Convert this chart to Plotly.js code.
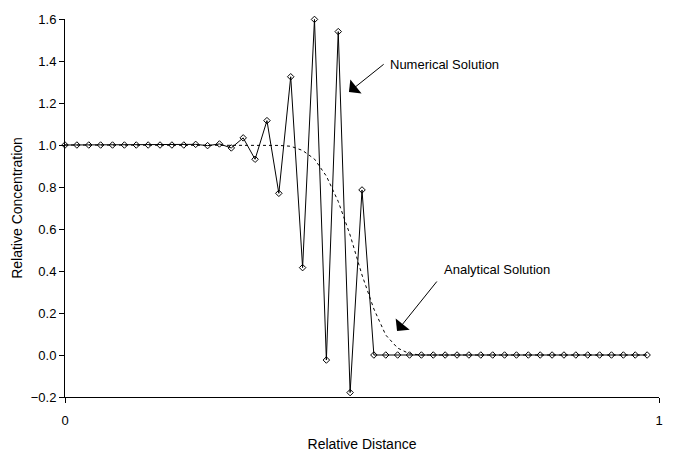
<!DOCTYPE html>
<html>
<head>
<meta charset="utf-8">
<script src="https://cdn.plot.ly/plotly-3.0.1.min.js"></script>
<style>html,body{margin:0;padding:0;background:#fff;}#chart{width:675px;height:452px;}</style>
</head>
<body>
<div id="chart"></div>
<script>
// Relative distance grid (step 0.02)
var xStep = 0.02;
var nPoints = 50;
var relDistance = [];
for (var i = 0; i < nPoints; i++) relDistance.push(+(i * xStep).toFixed(2));

// Numerical solution
var numerical = [
  1.0, 1.0, 1.0, 1.0, 1.0, 1.0, 1.0, 1.0, 1.0, 1.0,
  1.0, 1.003, 0.997, 1.005, 0.986, 1.034, 0.932, 1.116, 0.770, 1.325,
  0.416, 1.598, -0.024, 1.540, -0.179, 0.786, 0.0, 0.0, 0.0, 0.0,
  0.0, 0.0, 0.0, 0.0, 0.0, 0.0, 0.0, 0.0, 0.0, 0.0,
  0.0, 0.0, 0.0, 0.0, 0.0, 0.0, 0.0, 0.0, 0.0, 0.0
];

// Analytical solution
var analytical = [
  1.0, 1.0, 1.0, 1.0, 1.0, 1.0, 1.0, 1.0, 1.0, 1.0,
  1.0, 1.0, 1.0, 1.0, 1.0, 1.0, 1.0, 1.0, 0.998, 0.994,
  0.974, 0.933, 0.852, 0.731, 0.571, 0.381, 0.219, 0.095, 0.033, 0.006,
  0.0, 0.0, 0.0, 0.0, 0.0, 0.0, 0.0, 0.0, 0.0, 0.0,
  0.0, 0.0, 0.0, 0.0, 0.0, 0.0, 0.0, 0.0, 0.0, 0.0
];

var yTicks = [-0.2, 0.0, 0.2, 0.4, 0.6, 0.8, 1.0, 1.2, 1.4, 1.6];
var xTicks = [0, 1];

var font = 'Liberation Sans, Arial, sans-serif';

var traces = [
  {
    x: relDistance, y: analytical, mode: 'lines', name: 'Analytical Solution',
    line: {color: '#000', width: 1, dash: 'dot'}, hoverinfo: 'skip', cliponaxis: false
  },
  {
    x: relDistance, y: numerical, mode: 'lines+markers', name: 'Numerical Solution',
    line: {color: '#000', width: 1}, cliponaxis: false,
    marker: {symbol: 'diamond-open', size: 5, color: '#000', line: {width: 1, color: '#000'}}
  }
];

var layout = {
  width: 675, height: 452,
  margin: {l: 65, r: 16, t: 19, b: 55},
  paper_bgcolor: '#fff', plot_bgcolor: '#fff',
  showlegend: false,
  font: {family: font, size: 13, color: '#000'},
  xaxis: {
    range: [0, 1], tickvals: xTicks, ticktext: ['0', '1'],
    showgrid: false, zeroline: false, showline: true, linecolor: '#000', linewidth: 1,
    ticks: 'outside', ticklen: 5, tickcolor: '#000', ticklabelstandoff: 6,
    title: {text: 'Relative Distance', font: {size: 14}, standoff: 13}
  },
  yaxis: {
    range: [-0.2, 1.6], tickvals: yTicks, tickformat: '.1f',
    showgrid: false, zeroline: false, showline: true, linecolor: '#000', linewidth: 1,
    ticks: 'outside', ticklen: 5, tickcolor: '#000',
    title: {text: 'Relative Concentration', font: {size: 14}, standoff: 4}
  },
  annotations: [
    {x: 0.478, y: 1.252, ax: 0.539, ay: 1.390, xref: 'x', yref: 'y', axref: 'x', ayref: 'y',
     text: '', showarrow: true, arrowhead: 1, arrowsize: 3, arrowwidth: 1, arrowcolor: '#000', standoff: 0, startstandoff: 0},
    {x: 0.544, y: 1.381, xref: 'x', yref: 'y', text: 'Numerical Solution', showarrow: false,
     xanchor: 'left', yanchor: 'middle', font: {size: 13}},
    {x: 0.559, y: 0.114, ax: 0.628, ay: 0.357, xref: 'x', yref: 'y', axref: 'x', ayref: 'y',
     text: '', showarrow: true, arrowhead: 1, arrowsize: 3, arrowwidth: 1, arrowcolor: '#000', standoff: 0, startstandoff: 0},
    {x: 0.635, y: 0.405, xref: 'x', yref: 'y', text: 'Analytical Solution', showarrow: false,
     xanchor: 'left', yanchor: 'middle', font: {size: 13}}
  ]
};

Plotly.newPlot('chart', traces, layout, {displayModeBar: false, staticPlot: true});
</script>
</body>
</html>
